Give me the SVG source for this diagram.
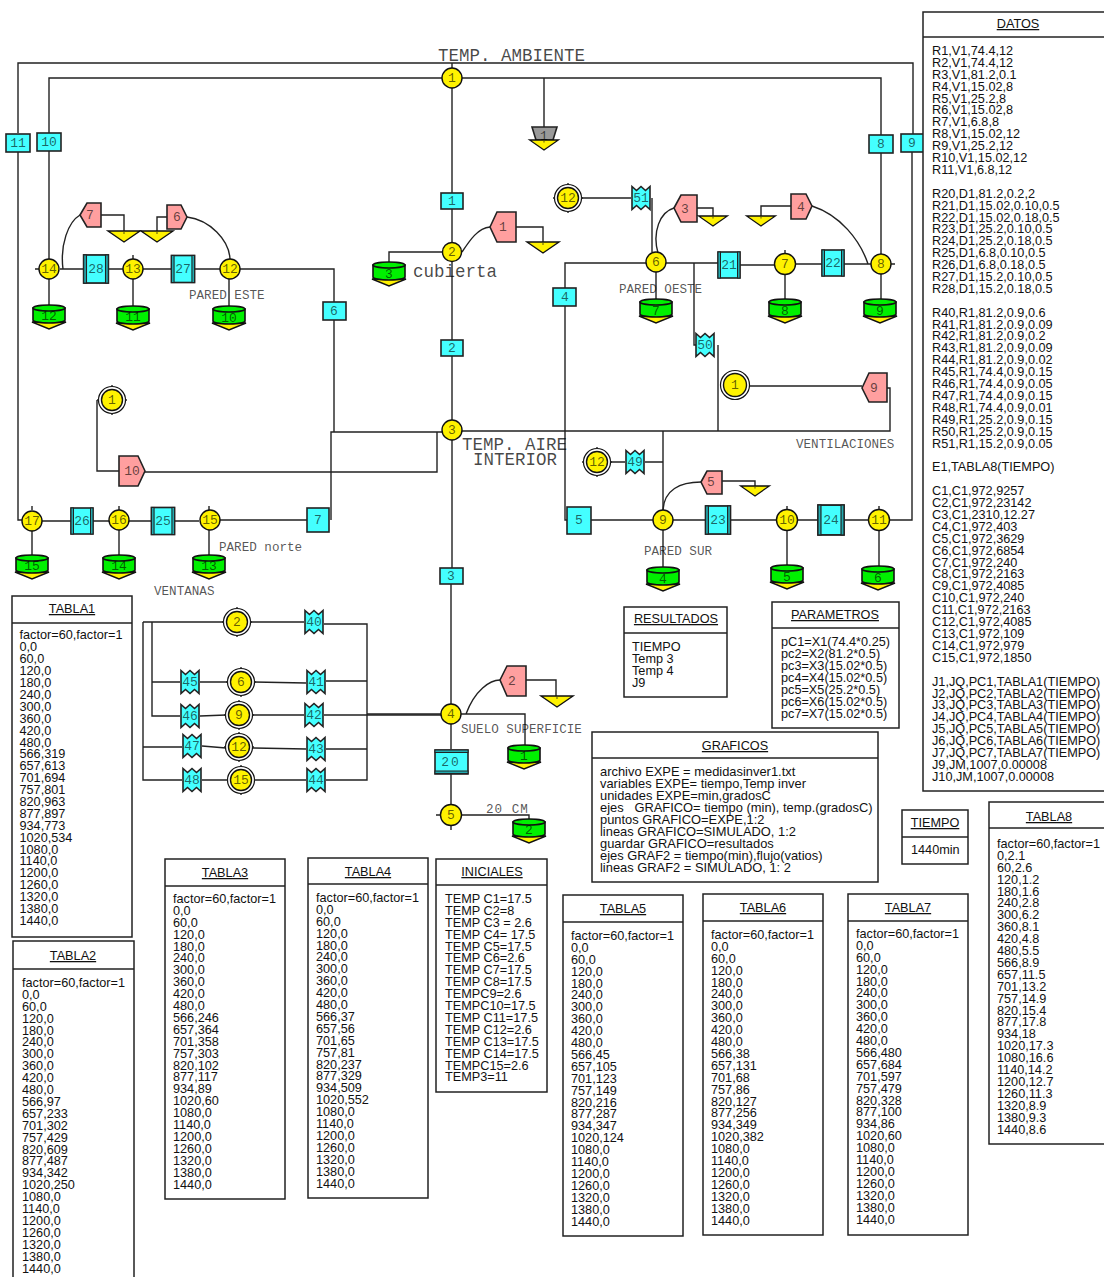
<svg xmlns="http://www.w3.org/2000/svg" width="1104" height="1277" viewBox="0 0 1104 1277">
<style>
.l{fill:none;stroke:#222;stroke-width:1.4}
.y{fill:#fff200;stroke:#111;stroke-width:1.4}
.c{fill:#44ffff;stroke:#222;stroke-width:1.6}
.p{fill:#ff9f9f;stroke:#222;stroke-width:1.6}
.g{fill:#00f000;stroke:#111;stroke-width:1.6}
.gr{fill:#999;stroke:#222;stroke-width:1.6}
.w{fill:#fff;stroke:#111;stroke-width:1.2}
.bar{fill:#22aab0;stroke:#222;stroke-width:1}
.box{fill:#fff;stroke:#222;stroke-width:1.5}
.n{font:13px "Liberation Mono",monospace;fill:#000;fill-opacity:.62;text-anchor:middle}
.m{font:17.5px "Liberation Mono",monospace;fill:#000;fill-opacity:.72}
.s{font:12.6px "Liberation Mono",monospace;fill:#000;fill-opacity:.68}
.h{font:12.7px "Liberation Sans",Arial,sans-serif;fill:#111;text-anchor:middle;text-decoration:underline}
.t{font:12.7px "Liberation Sans",Arial,sans-serif;fill:#111;white-space:pre}
</style>
<defs>
<g id="cyl"><polygon class="y" points="-17,17 17,17 0,24" stroke-width="1"/><path class="g" d="M-16 3V15A16 3 0 0 0 16 15V3Z"/><ellipse class="g" cx="0" cy="3" rx="16" ry="3"/></g>
<g id="gnd"><polygon class="y" points="-16,0 16,0 0,11"/><circle cx="0" cy="2" r=".7" fill="#111"/></g>
<path id="zig" class="c" d="M-9 -11.500L-4.500 -7.500L0 -11.500L4.500 -7.500L9 -11.500V11.500L4.500 7.500L0 11.500L-4.500 7.500L-9 11.500Z"/>
<g id="cir2"><circle class="w" r="13.500"/><circle class="y" r="10.500"/><path class="l" d="M0 -15V-13M0 13V15M-15 0H-13M13 0H15"/></g>
<g id="wallv"><rect class="c" x="-11" y="-13" width="22" height="26"/><rect class="bar" x="-11" y="-13" width="2.500" height="26"/><rect class="bar" x="8.500" y="-13" width="2.500" height="26"/></g>
</defs>
<g id="connectors" class="l">
<path class="l" d="M18 133V63H913V134M912 152V520H889M18 151V520H22M452 63V68"/>
<path class="l" stroke-width="1.6" d="M49 133V78H442M462 78H881V135M881 153V254M49 151V259M544 78V127"/>
<path class="l" d="M452 88V193M452 209V242M452 262V340M452 356V420M452 440V568M451 584V704M451 724V749M451 773V805"/>
<path class="l" d="M442 252H389V262M462 252C470 240 478 228 490 227M516 227H543V242"/>
<path class="l" d="M646 263H565V288M565 306V520H567M462 431H890V388H887M694 263V345H696M718 345V431M663 431V510"/>
<path class="l" d="M666 263H718M740 265H775M795 264H822M844 264H871M652 198V252M581 198H631M658 253C652 232 660 212 674 208M697 208H713V216M791 206H761V216M812 206C840 215 860 240 868 264"/>
<path class="l" d="M656 272V299M785 274V299M881 274V299M750 386H862M610 462H625M645 462H663"/>
<path class="l" d="M663 510C664 490 680 482 701 482M722 481H755V486M591 520H653M673 520H705M731 520H777M797 520H818M844 520H869M663 530V567M787 530V565M879 530V566"/>
<path class="l" d="M60 269H83M109 269H123M143 269H171M195 269H220M240 269H334V302M334 320V432M331 520V432H442M219 520H307M97 400V471H119M145 472H437V432"/>
<path class="l" d="M42 521H71M93 521H109M129 521H152M175 521H199M32 530V555M119 530V555M209 530V555M49 279V305M133 279V306M229 279V306"/>
<path class="l" d="M63 269C60 245 68 222 80 215M101 215H124V231M167 217H157V231M187 217C210 220 229 240 230 259"/>
<path class="l" stroke-width="1.8" d="M143 622H224M143 622V780H182M152 622V716H180M152 682H180M143 747H182M367 714H441"/>
<path class="l" d="M250 622H304M324 624H367V780H326M326 681H367M324 715H441M326 749H367M200 682H228M254 682L306 683M200 716L226 715M252 715H304M202 746L226 748M252 748L306 749M202 780H226M256 780H306"/>
<path class="l" d="M466 714C475 690 490 680 500 680M526 680H556V696M461 714H525V745M461 815H529V819"/>
<path class="l" d="M133 255V259M119 506V510M32 506V510M209 506V510M785 250V254M787 506V510M879 506V510M451 825V830M441 815H436M39 269H35M891 264H895"/>
</g>
<g id="n1"><circle class="y" cx="452" cy="78" r="10"/><text class="n" x="452" y="82">1</text></g>
<g id="n2"><circle class="y" cx="452" cy="252" r="9.500"/><text class="n" x="452" y="256">2</text></g>
<g id="n3"><circle class="y" cx="452" cy="430" r="10"/><text class="n" x="452" y="434">3</text></g>
<g id="n4"><circle class="y" cx="451" cy="714" r="10"/><text class="n" x="451" y="718">4</text></g>
<g id="n5"><circle class="y" cx="451" cy="815" r="10.500"/><text class="n" x="451" y="819">5</text></g>
<g id="n6"><circle class="y" cx="656" cy="262" r="10"/><text class="n" x="656" y="266">6</text></g>
<g id="n7"><circle class="y" cx="785" cy="264" r="10.500"/><text class="n" x="785" y="268">7</text></g>
<g id="n8"><circle class="y" cx="881" cy="264" r="10"/><text class="n" x="881" y="268">8</text></g>
<g id="n9"><circle class="y" cx="663" cy="520" r="10"/><text class="n" x="663" y="524">9</text></g>
<g id="n10"><circle class="y" cx="787" cy="520" r="10.500"/><text class="n" x="787" y="524">10</text></g>
<g id="n11"><circle class="y" cx="879" cy="520" r="10.500"/><text class="n" x="879" y="524">11</text></g>
<g id="n12"><circle class="y" cx="230" cy="269" r="10"/><text class="n" x="230" y="273">12</text></g>
<g id="n13"><circle class="y" cx="133" cy="269" r="10"/><text class="n" x="133" y="273">13</text></g>
<g id="n14"><circle class="y" cx="49" cy="269" r="10"/><text class="n" x="49" y="273">14</text></g>
<g id="n15"><circle class="y" cx="210" cy="520" r="10"/><text class="n" x="210" y="524">15</text></g>
<g id="n16"><circle class="y" cx="119" cy="520" r="10"/><text class="n" x="119" y="524">16</text></g>
<g id="n17"><circle class="y" cx="32" cy="521" r="10"/><text class="n" x="32" y="525">17</text></g>
<g id="e12a"><use href="#cir2" x="568" y="198"/><text class="n" x="568" y="202">12</text></g>
<g id="e12b"><use href="#cir2" x="597" y="462"/><text class="n" x="597" y="466">12</text></g>
<g id="e1a"><circle class="w" cx="735" cy="385" r="14.500"/><circle class="y" cx="735" cy="385" r="11.500"/><text class="n" x="735" y="389">1</text></g>
<g id="e1b"><use href="#cir2" x="112" y="400"/><text class="n" x="112" y="404">1</text></g>
<g id="e2"><use href="#cir2" x="237" y="622"/><text class="n" x="237" y="626">2</text></g>
<g id="e6"><use href="#cir2" x="241" y="682"/><text class="n" x="241" y="686">6</text></g>
<g id="e9"><use href="#cir2" x="239" y="715"/><text class="n" x="239" y="719">9</text></g>
<g id="e12c"><use href="#cir2" x="239" y="747"/><text class="n" x="239" y="751">12</text></g>
<g id="e15"><use href="#cir2" x="241" y="780"/><text class="n" x="241" y="784">15</text></g>
<g id="r11"><rect class="c" x="6" y="134" width="24" height="18"/><text class="n" x="18" y="147">11</text></g>
<g id="r10"><rect class="c" x="37" y="133" width="24" height="18"/><text class="n" x="49" y="146">10</text></g>
<g id="r1"><rect class="c" x="441" y="193" width="22" height="16"/><text class="n" x="452" y="205">1</text></g>
<g id="r2"><rect class="c" x="441" y="340" width="22" height="16"/><text class="n" x="452" y="352">2</text></g>
<g id="r3"><rect class="c" x="440" y="568" width="23" height="16"/><text class="n" x="451" y="580">3</text></g>
<g id="r4"><rect class="c" x="553" y="288" width="23" height="18"/><text class="n" x="565" y="301">4</text></g>
<g id="r5"><rect class="c" x="567" y="507" width="24" height="27"/><text class="n" x="579" y="524">5</text></g>
<g id="r6"><rect class="c" x="323" y="302" width="23" height="18"/><text class="n" x="334" y="315">6</text></g>
<g id="r7"><rect class="c" x="307" y="508" width="22" height="24"/><text class="n" x="318" y="524">7</text></g>
<g id="r8"><rect class="c" x="869" y="135" width="24" height="18"/><text class="n" x="881" y="148">8</text></g>
<g id="r9"><rect class="c" x="901" y="134" width="23" height="18"/><text class="n" x="912" y="147">9</text></g>
<g id="d28"><use href="#wallv" transform="translate(96 269) scale(1.12 1.08)"/><text class="n" x="96" y="273">28</text></g>
<g id="d27"><use href="#wallv" transform="translate(183 269) scale(1.05 1.04)"/><text class="n" x="183" y="273">27</text></g>
<g id="d21"><use href="#wallv" x="729" y="265"/><text class="n" x="729" y="269">21</text></g>
<g id="d22"><use href="#wallv" x="833" y="263"/><text class="n" x="833" y="267">22</text></g>
<g id="d23"><use href="#wallv" transform="translate(718 520) scale(1.13 1.08)"/><text class="n" x="718" y="524">23</text></g>
<g id="d24"><use href="#wallv" transform="translate(831 520) scale(1.18 1.15)"/><text class="n" x="831" y="524">24</text></g>
<g id="d26"><use href="#wallv" x="82" y="521"/><text class="n" x="82" y="525">26</text></g>
<g id="d25"><use href="#wallv" transform="translate(163 521) scale(1.05 1.04)"/><text class="n" x="163" y="525">25</text></g>
<g id="d20"><rect class="c" x="435" y="750" width="33" height="24"/><rect class="bar" x="435" y="750" width="33" height="2.500"/><rect class="bar" x="435" y="771" width="33" height="2.500"/><text class="n" x="451" y="766" letter-spacing="2">20</text></g>
<g id="z51"><use href="#zig" x="641" y="198"/><text class="n" x="641" y="202">51</text></g>
<g id="z50"><use href="#zig" x="705" y="345"/><text class="n" x="705" y="349">50</text></g>
<g id="z49"><use href="#zig" x="635" y="462"/><text class="n" x="635" y="466">49</text></g>
<g id="z40"><use href="#zig" x="314" y="622"/><text class="n" x="314" y="626">40</text></g>
<g id="z41"><use href="#zig" x="316" y="682"/><text class="n" x="316" y="686">41</text></g>
<g id="z42"><use href="#zig" x="314" y="715"/><text class="n" x="314" y="719">42</text></g>
<g id="z43"><use href="#zig" x="316" y="749"/><text class="n" x="316" y="753">43</text></g>
<g id="z44"><use href="#zig" x="316" y="780"/><text class="n" x="316" y="784">44</text></g>
<g id="z45"><use href="#zig" x="190" y="682"/><text class="n" x="190" y="686">45</text></g>
<g id="z46"><use href="#zig" x="190" y="716"/><text class="n" x="190" y="720">46</text></g>
<g id="z47"><use href="#zig" x="192" y="746"/><text class="n" x="192" y="750">47</text></g>
<g id="z48"><use href="#zig" x="192" y="780"/><text class="n" x="192" y="784">48</text></g>
<g id="p1"><path class="p" d="M490 227L497 212H516V242H497Z"/><text class="n" x="503" y="231">1</text></g>
<g id="p2"><path class="p" d="M500 680L507 666H526V696H507Z"/><text class="n" x="512" y="685">2</text></g>
<g id="p3"><path class="p" d="M674 208L681 195H697V222H681Z"/><text class="n" x="685" y="213">3</text></g>
<g id="p4"><path class="p" d="M812 206L806 194H791V219H806Z"/><text class="n" x="801" y="211">4</text></g>
<g id="p5"><path class="p" d="M701 482L707 471H722V494H707Z"/><text class="n" x="711" y="486">5</text></g>
<g id="p6"><path class="p" d="M187 217L181 205H167V229H181Z"/><text class="n" x="177" y="221">6</text></g>
<g id="p7"><path class="p" d="M80 215L87 203H101V227H87Z"/><text class="n" x="90" y="219">7</text></g>
<g id="p9"><path class="p" d="M862 388L869 373H887V402H869Z"/><text class="n" x="874" y="392">9</text></g>
<g id="p10"><path class="p" d="M145 471L138 456H119V486H138Z"/><text class="n" x="132" y="475">10</text></g>
<g id="t1"><polygon class="gr" points="532,127 557,127 553,140 536,140"/><use href="#gnd" transform="translate(544 140) scale(.9)"/><text class="n" x="544" y="140">1</text></g>
<g id="g1"><use href="#gnd" x="543" y="242"/></g>
<g id="g7"><use href="#gnd" x="124" y="231"/></g>
<g id="g6"><use href="#gnd" x="157" y="231"/></g>
<g id="g3"><use href="#gnd" transform="translate(713 216) scale(.9)"/></g>
<g id="g4"><use href="#gnd" transform="translate(761 216) scale(.9)"/></g>
<g id="g5"><use href="#gnd" transform="translate(755 486) scale(.9)"/></g>
<g id="g2"><use href="#gnd" x="557" y="696"/></g>
<g id="c12"><use href="#cyl" x="49" y="305"/><text class="n" x="49" y="320">12</text></g>
<g id="c11"><use href="#cyl" x="133" y="306"/><text class="n" x="133" y="321">11</text></g>
<g id="c10"><use href="#cyl" x="229" y="306"/><text class="n" x="229" y="322">10</text></g>
<g id="c3"><use href="#cyl" x="389" y="262"/><text class="n" x="389" y="278">3</text></g>
<g id="c7"><use href="#cyl" x="656" y="299"/><text class="n" x="656" y="315">7</text></g>
<g id="c8"><use href="#cyl" x="785" y="299"/><text class="n" x="785" y="315">8</text></g>
<g id="c9"><use href="#cyl" x="880" y="299"/><text class="n" x="880" y="315">9</text></g>
<g id="c4"><use href="#cyl" x="663" y="567"/><text class="n" x="663" y="583">4</text></g>
<g id="c5"><use href="#cyl" x="787" y="565"/><text class="n" x="787" y="581">5</text></g>
<g id="c6"><use href="#cyl" x="878" y="566"/><text class="n" x="878" y="582">6</text></g>
<g id="c15"><use href="#cyl" x="32" y="555"/><text class="n" x="32" y="570">15</text></g>
<g id="c14"><use href="#cyl" x="119" y="555"/><text class="n" x="119" y="570">14</text></g>
<g id="c13"><use href="#cyl" x="209" y="555"/><text class="n" x="209" y="570">13</text></g>
<g id="c1"><use href="#cyl" x="524" y="745"/><text class="n" x="524" y="760">1</text></g>
<g id="c2"><use href="#cyl" x="529" y="819"/><text class="n" x="529" y="834">2</text></g>
<g id="labels">
<text class="m" x="438" y="61">TEMP. AMBIENTE</text>
<text class="m" x="413" y="277">cubierta</text>
<text class="m" x="462" y="450">TEMP. AIRE</text>
<text class="m" x="473" y="465">INTERIOR</text>
<text class="s" x="189" y="299">PARED ESTE</text>
<text class="s" x="619" y="293">PARED OESTE</text>
<text class="s" x="796" y="448">VENTILACIONES</text>
<text class="s" x="219" y="551">PARED norte</text>
<text class="s" x="154" y="595">VENTANAS</text>
<text class="s" x="644" y="555">PARED SUR</text>
<text class="s" x="461" y="733">SUELO SUPERFICIE</text>
<text class="s" x="486" y="813" letter-spacing="1">20 CM</text>
</g>
<g id="datos"><rect class="box" x="923" y="12" width="190" height="779"/><path class="l" d="M923 37H1113"/><text class="h" x="1018" y="28">DATOS</text>
<text class="t" y="43"><tspan x="932" dy="11.900">R1,V1,74.4,12</tspan><tspan x="932" dy="11.900">R2,V1,74.4,12</tspan><tspan x="932" dy="11.900">R3,V1,81.2,0.1</tspan><tspan x="932" dy="11.900">R4,V1,15.02,8</tspan><tspan x="932" dy="11.900">R5,V1,25.2,8</tspan><tspan x="932" dy="11.900">R6,V1,15.02,8</tspan><tspan x="932" dy="11.900">R7,V1,6.8,8</tspan><tspan x="932" dy="11.900">R8,V1,15.02,12</tspan><tspan x="932" dy="11.900">R9,V1,25.2,12</tspan><tspan x="932" dy="11.900">R10,V1,15.02,12</tspan><tspan x="932" dy="11.900">R11,V1,6.8,12</tspan><tspan x="932" dy="23.800">R20,D1,81.2,0.2,2</tspan><tspan x="932" dy="11.900">R21,D1,15.02,0.10,0.5</tspan><tspan x="932" dy="11.900">R22,D1,15.02,0.18,0.5</tspan><tspan x="932" dy="11.900">R23,D1,25.2,0.10,0.5</tspan><tspan x="932" dy="11.900">R24,D1,25.2,0.18,0.5</tspan><tspan x="932" dy="11.900">R25,D1,6.8,0.10,0.5</tspan><tspan x="932" dy="11.900">R26,D1,6.8,0.18,0.5</tspan><tspan x="932" dy="11.900">R27,D1,15.2,0.10,0.5</tspan><tspan x="932" dy="11.900">R28,D1,15.2,0.18,0.5</tspan><tspan x="932" dy="23.800">R40,R1,81.2,0.9,0.6</tspan><tspan x="932" dy="11.900">R41,R1,81.2,0.9,0.09</tspan><tspan x="932" dy="11.900">R42,R1,81.2,0.9,0.2</tspan><tspan x="932" dy="11.900">R43,R1,81.2,0.9,0.09</tspan><tspan x="932" dy="11.900">R44,R1,81.2,0.9,0.02</tspan><tspan x="932" dy="11.900">R45,R1,74.4,0.9,0.15</tspan><tspan x="932" dy="11.900">R46,R1,74.4,0.9,0.05</tspan><tspan x="932" dy="11.900">R47,R1,74.4,0.9,0.15</tspan><tspan x="932" dy="11.900">R48,R1,74.4,0.9,0.01</tspan><tspan x="932" dy="11.900">R49,R1,25.2,0.9,0.15</tspan><tspan x="932" dy="11.900">R50,R1,25.2,0.9,0.15</tspan><tspan x="932" dy="11.900">R51,R1,15.2,0.9,0.05</tspan><tspan x="932" dy="23.800">E1,TABLA8(TIEMPO)</tspan><tspan x="932" dy="23.800">C1,C1,972,9257</tspan><tspan x="932" dy="11.900">C2,C1,972,23142</tspan><tspan x="932" dy="11.900">C3,C1,2310,12.27</tspan><tspan x="932" dy="11.900">C4,C1,972,403</tspan><tspan x="932" dy="11.900">C5,C1,972,3629</tspan><tspan x="932" dy="11.900">C6,C1,972,6854</tspan><tspan x="932" dy="11.900">C7,C1,972,240</tspan><tspan x="932" dy="11.900">C8,C1,972,2163</tspan><tspan x="932" dy="11.900">C9,C1,972,4085</tspan><tspan x="932" dy="11.900">C10,C1,972,240</tspan><tspan x="932" dy="11.900">C11,C1,972,2163</tspan><tspan x="932" dy="11.900">C12,C1,972,4085</tspan><tspan x="932" dy="11.900">C13,C1,972,109</tspan><tspan x="932" dy="11.900">C14,C1,972,979</tspan><tspan x="932" dy="11.900">C15,C1,972,1850</tspan><tspan x="932" dy="23.800">J1,JQ,PC1,TABLA1(TIEMPO)</tspan><tspan x="932" dy="11.900">J2,JQ,PC2,TABLA2(TIEMPO)</tspan><tspan x="932" dy="11.900">J3,JQ,PC3,TABLA3(TIEMPO)</tspan><tspan x="932" dy="11.900">J4,JQ,PC4,TABLA4(TIEMPO)</tspan><tspan x="932" dy="11.900">J5,JQ,PC5,TABLA5(TIEMPO)</tspan><tspan x="932" dy="11.900">J6,JQ,PC6,TABLA6(TIEMPO)</tspan><tspan x="932" dy="11.900">J7,JQ,PC7,TABLA7(TIEMPO)</tspan><tspan x="932" dy="11.900">J9,JM,1007,0.00008</tspan><tspan x="932" dy="11.900">J10,JM,1007,0.00008</tspan></text></g>
<g id="tabla1"><rect class="box" x="12" y="596" width="120" height="341"/><path class="l" d="M12 623H132"/><text class="h" x="72" y="613">TABLA1</text>
<text class="t" y="627.500"><tspan x="19.500" dy="11.900">factor=60,factor=1</tspan><tspan x="19.500" dy="11.900">0,0</tspan><tspan x="19.500" dy="11.900">60,0</tspan><tspan x="19.500" dy="11.900">120,0</tspan><tspan x="19.500" dy="11.900">180,0</tspan><tspan x="19.500" dy="11.900">240,0</tspan><tspan x="19.500" dy="11.900">300,0</tspan><tspan x="19.500" dy="11.900">360,0</tspan><tspan x="19.500" dy="11.900">420,0</tspan><tspan x="19.500" dy="11.900">480,0</tspan><tspan x="19.500" dy="11.900">566,319</tspan><tspan x="19.500" dy="11.900">657,613</tspan><tspan x="19.500" dy="11.900">701,694</tspan><tspan x="19.500" dy="11.900">757,801</tspan><tspan x="19.500" dy="11.900">820,963</tspan><tspan x="19.500" dy="11.900">877,897</tspan><tspan x="19.500" dy="11.900">934,773</tspan><tspan x="19.500" dy="11.900">1020,534</tspan><tspan x="19.500" dy="11.900">1080,0</tspan><tspan x="19.500" dy="11.900">1140,0</tspan><tspan x="19.500" dy="11.900">1200,0</tspan><tspan x="19.500" dy="11.900">1260,0</tspan><tspan x="19.500" dy="11.900">1320,0</tspan><tspan x="19.500" dy="11.900">1380,0</tspan><tspan x="19.500" dy="11.900">1440,0</tspan></text></g>
<g id="tabla2"><rect class="box" x="13" y="941" width="121" height="345"/><path class="l" d="M13 969H134"/><text class="h" x="73" y="960">TABLA2</text>
<text class="t" y="975"><tspan x="22" dy="11.900">factor=60,factor=1</tspan><tspan x="22" dy="11.900">0,0</tspan><tspan x="22" dy="11.900">60,0</tspan><tspan x="22" dy="11.900">120,0</tspan><tspan x="22" dy="11.900">180,0</tspan><tspan x="22" dy="11.900">240,0</tspan><tspan x="22" dy="11.900">300,0</tspan><tspan x="22" dy="11.900">360,0</tspan><tspan x="22" dy="11.900">420,0</tspan><tspan x="22" dy="11.900">480,0</tspan><tspan x="22" dy="11.900">566,97</tspan><tspan x="22" dy="11.900">657,233</tspan><tspan x="22" dy="11.900">701,302</tspan><tspan x="22" dy="11.900">757,429</tspan><tspan x="22" dy="11.900">820,609</tspan><tspan x="22" dy="11.900">877,487</tspan><tspan x="22" dy="11.900">934,342</tspan><tspan x="22" dy="11.900">1020,250</tspan><tspan x="22" dy="11.900">1080,0</tspan><tspan x="22" dy="11.900">1140,0</tspan><tspan x="22" dy="11.900">1200,0</tspan><tspan x="22" dy="11.900">1260,0</tspan><tspan x="22" dy="11.900">1320,0</tspan><tspan x="22" dy="11.900">1380,0</tspan><tspan x="22" dy="11.900">1440,0</tspan></text></g>
<g id="tabla3"><rect class="box" x="165" y="859" width="120" height="340"/><path class="l" d="M165 886H285"/><text class="h" x="225" y="877">TABLA3</text>
<text class="t" y="891"><tspan x="173" dy="11.900">factor=60,factor=1</tspan><tspan x="173" dy="11.900">0,0</tspan><tspan x="173" dy="11.900">60,0</tspan><tspan x="173" dy="11.900">120,0</tspan><tspan x="173" dy="11.900">180,0</tspan><tspan x="173" dy="11.900">240,0</tspan><tspan x="173" dy="11.900">300,0</tspan><tspan x="173" dy="11.900">360,0</tspan><tspan x="173" dy="11.900">420,0</tspan><tspan x="173" dy="11.900">480,0</tspan><tspan x="173" dy="11.900">566,246</tspan><tspan x="173" dy="11.900">657,364</tspan><tspan x="173" dy="11.900">701,358</tspan><tspan x="173" dy="11.900">757,303</tspan><tspan x="173" dy="11.900">820,102</tspan><tspan x="173" dy="11.900">877,117</tspan><tspan x="173" dy="11.900">934,89</tspan><tspan x="173" dy="11.900">1020,60</tspan><tspan x="173" dy="11.900">1080,0</tspan><tspan x="173" dy="11.900">1140,0</tspan><tspan x="173" dy="11.900">1200,0</tspan><tspan x="173" dy="11.900">1260,0</tspan><tspan x="173" dy="11.900">1320,0</tspan><tspan x="173" dy="11.900">1380,0</tspan><tspan x="173" dy="11.900">1440,0</tspan></text></g>
<g id="tabla4"><rect class="box" x="308" y="858" width="120" height="340"/><path class="l" d="M308 884H428"/><text class="h" x="368" y="876">TABLA4</text>
<text class="t" y="890"><tspan x="316" dy="11.900">factor=60,factor=1</tspan><tspan x="316" dy="11.900">0,0</tspan><tspan x="316" dy="11.900">60,0</tspan><tspan x="316" dy="11.900">120,0</tspan><tspan x="316" dy="11.900">180,0</tspan><tspan x="316" dy="11.900">240,0</tspan><tspan x="316" dy="11.900">300,0</tspan><tspan x="316" dy="11.900">360,0</tspan><tspan x="316" dy="11.900">420,0</tspan><tspan x="316" dy="11.900">480,0</tspan><tspan x="316" dy="11.900">566,37</tspan><tspan x="316" dy="11.900">657,56</tspan><tspan x="316" dy="11.900">701,65</tspan><tspan x="316" dy="11.900">757,81</tspan><tspan x="316" dy="11.900">820,237</tspan><tspan x="316" dy="11.900">877,329</tspan><tspan x="316" dy="11.900">934,509</tspan><tspan x="316" dy="11.900">1020,552</tspan><tspan x="316" dy="11.900">1080,0</tspan><tspan x="316" dy="11.900">1140,0</tspan><tspan x="316" dy="11.900">1200,0</tspan><tspan x="316" dy="11.900">1260,0</tspan><tspan x="316" dy="11.900">1320,0</tspan><tspan x="316" dy="11.900">1380,0</tspan><tspan x="316" dy="11.900">1440,0</tspan></text></g>
<g id="iniciales"><rect class="box" x="436" y="859" width="111" height="233"/><path class="l" d="M436 885H547"/><text class="h" x="492" y="876">INICIALES</text>
<text class="t" y="891"><tspan x="445" dy="11.900">TEMP C1=17.5</tspan><tspan x="445" dy="11.900">TEMP C2=8</tspan><tspan x="445" dy="11.900">TEMP C3 = 2.6</tspan><tspan x="445" dy="11.900">TEMP C4= 17.5</tspan><tspan x="445" dy="11.900">TEMP C5=17.5</tspan><tspan x="445" dy="11.900">TEMP C6=2.6</tspan><tspan x="445" dy="11.900">TEMP C7=17.5</tspan><tspan x="445" dy="11.900">TEMP C8=17.5</tspan><tspan x="445" dy="11.900">TEMPC9=2.6</tspan><tspan x="445" dy="11.900">TEMPC10=17.5</tspan><tspan x="445" dy="11.900">TEMP C11=17.5</tspan><tspan x="445" dy="11.900">TEMP C12=2.6</tspan><tspan x="445" dy="11.900">TEMP C13=17.5</tspan><tspan x="445" dy="11.900">TEMP C14=17.5</tspan><tspan x="445" dy="11.900">TEMPC15=2.6</tspan><tspan x="445" dy="11.900">TEMP3=11</tspan></text></g>
<g id="tabla5"><rect class="box" x="563" y="895" width="120" height="341"/><path class="l" d="M563 922H683"/><text class="h" x="623" y="913">TABLA5</text>
<text class="t" y="928"><tspan x="571" dy="11.900">factor=60,factor=1</tspan><tspan x="571" dy="11.900">0,0</tspan><tspan x="571" dy="11.900">60,0</tspan><tspan x="571" dy="11.900">120,0</tspan><tspan x="571" dy="11.900">180,0</tspan><tspan x="571" dy="11.900">240,0</tspan><tspan x="571" dy="11.900">300,0</tspan><tspan x="571" dy="11.900">360,0</tspan><tspan x="571" dy="11.900">420,0</tspan><tspan x="571" dy="11.900">480,0</tspan><tspan x="571" dy="11.900">566,45</tspan><tspan x="571" dy="11.900">657,105</tspan><tspan x="571" dy="11.900">701,123</tspan><tspan x="571" dy="11.900">757,149</tspan><tspan x="571" dy="11.900">820,216</tspan><tspan x="571" dy="11.900">877,287</tspan><tspan x="571" dy="11.900">934,347</tspan><tspan x="571" dy="11.900">1020,124</tspan><tspan x="571" dy="11.900">1080,0</tspan><tspan x="571" dy="11.900">1140,0</tspan><tspan x="571" dy="11.900">1200,0</tspan><tspan x="571" dy="11.900">1260,0</tspan><tspan x="571" dy="11.900">1320,0</tspan><tspan x="571" dy="11.900">1380,0</tspan><tspan x="571" dy="11.900">1440,0</tspan></text></g>
<g id="tabla6"><rect class="box" x="703" y="894" width="120" height="341"/><path class="l" d="M703 921H823"/><text class="h" x="763" y="912">TABLA6</text>
<text class="t" y="927"><tspan x="711" dy="11.900">factor=60,factor=1</tspan><tspan x="711" dy="11.900">0,0</tspan><tspan x="711" dy="11.900">60,0</tspan><tspan x="711" dy="11.900">120,0</tspan><tspan x="711" dy="11.900">180,0</tspan><tspan x="711" dy="11.900">240,0</tspan><tspan x="711" dy="11.900">300,0</tspan><tspan x="711" dy="11.900">360,0</tspan><tspan x="711" dy="11.900">420,0</tspan><tspan x="711" dy="11.900">480,0</tspan><tspan x="711" dy="11.900">566,38</tspan><tspan x="711" dy="11.900">657,131</tspan><tspan x="711" dy="11.900">701,68</tspan><tspan x="711" dy="11.900">757,86</tspan><tspan x="711" dy="11.900">820,127</tspan><tspan x="711" dy="11.900">877,256</tspan><tspan x="711" dy="11.900">934,349</tspan><tspan x="711" dy="11.900">1020,382</tspan><tspan x="711" dy="11.900">1080,0</tspan><tspan x="711" dy="11.900">1140,0</tspan><tspan x="711" dy="11.900">1200,0</tspan><tspan x="711" dy="11.900">1260,0</tspan><tspan x="711" dy="11.900">1320,0</tspan><tspan x="711" dy="11.900">1380,0</tspan><tspan x="711" dy="11.900">1440,0</tspan></text></g>
<g id="tabla7"><rect class="box" x="848" y="894" width="120" height="341"/><path class="l" d="M848 921H968"/><text class="h" x="908" y="912">TABLA7</text>
<text class="t" y="926"><tspan x="856" dy="11.900">factor=60,factor=1</tspan><tspan x="856" dy="11.900">0,0</tspan><tspan x="856" dy="11.900">60,0</tspan><tspan x="856" dy="11.900">120,0</tspan><tspan x="856" dy="11.900">180,0</tspan><tspan x="856" dy="11.900">240,0</tspan><tspan x="856" dy="11.900">300,0</tspan><tspan x="856" dy="11.900">360,0</tspan><tspan x="856" dy="11.900">420,0</tspan><tspan x="856" dy="11.900">480,0</tspan><tspan x="856" dy="11.900">566,480</tspan><tspan x="856" dy="11.900">657,684</tspan><tspan x="856" dy="11.900">701,597</tspan><tspan x="856" dy="11.900">757,479</tspan><tspan x="856" dy="11.900">820,328</tspan><tspan x="856" dy="11.900">877,100</tspan><tspan x="856" dy="11.900">934,86</tspan><tspan x="856" dy="11.900">1020,60</tspan><tspan x="856" dy="11.900">1080,0</tspan><tspan x="856" dy="11.900">1140,0</tspan><tspan x="856" dy="11.900">1200,0</tspan><tspan x="856" dy="11.900">1260,0</tspan><tspan x="856" dy="11.900">1320,0</tspan><tspan x="856" dy="11.900">1380,0</tspan><tspan x="856" dy="11.900">1440,0</tspan></text></g>
<g id="tabla8"><rect class="box" x="989" y="802" width="125" height="342"/><path class="l" d="M989 828H1114"/><text class="h" x="1049" y="821">TABLA8</text>
<text class="t" y="836"><tspan x="997" dy="11.900">factor=60,factor=1</tspan><tspan x="997" dy="11.900">0,2.1</tspan><tspan x="997" dy="11.900">60,2.6</tspan><tspan x="997" dy="11.900">120,1.2</tspan><tspan x="997" dy="11.900">180,1.6</tspan><tspan x="997" dy="11.900">240,2.8</tspan><tspan x="997" dy="11.900">300,6.2</tspan><tspan x="997" dy="11.900">360,8.1</tspan><tspan x="997" dy="11.900">420,4.8</tspan><tspan x="997" dy="11.900">480,5.5</tspan><tspan x="997" dy="11.900">566,8.9</tspan><tspan x="997" dy="11.900">657,11.5</tspan><tspan x="997" dy="11.900">701,13.2</tspan><tspan x="997" dy="11.900">757,14.9</tspan><tspan x="997" dy="11.900">820,15.4</tspan><tspan x="997" dy="11.900">877,17.8</tspan><tspan x="997" dy="11.900">934,18</tspan><tspan x="997" dy="11.900">1020,17.3</tspan><tspan x="997" dy="11.900">1080,16.6</tspan><tspan x="997" dy="11.900">1140,14.2</tspan><tspan x="997" dy="11.900">1200,12.7</tspan><tspan x="997" dy="11.900">1260,11.3</tspan><tspan x="997" dy="11.900">1320,8.9</tspan><tspan x="997" dy="11.900">1380,9.3</tspan><tspan x="997" dy="11.900">1440,8.6</tspan></text></g>
<g id="resultados"><rect class="box" x="624" y="607" width="103" height="90"/><path class="l" d="M624 633H727"/><text class="h" x="676" y="623" font-size="13">RESULTADOS</text>
<text class="t" y="639"><tspan x="632" dy="11.900">TIEMPO</tspan><tspan x="632" dy="12">Temp 3</tspan><tspan x="632" dy="12">Temp 4</tspan><tspan x="632" dy="12">J9</tspan></text></g>
<g id="parametros"><rect class="box" x="772" y="602" width="127" height="126"/><path class="l" d="M772 628H899"/><text class="h" x="835" y="619">PARAMETROS</text>
<text class="t" y="634.500"><tspan x="781" dy="11.900">pC1=X1(74.4*0.25)</tspan><tspan x="781" dy="11.900">pc2=X2(81.2*0.5)</tspan><tspan x="781" dy="11.900">pc3=X3(15.02*0.5)</tspan><tspan x="781" dy="11.900">pc4=X4(15.02*0.5)</tspan><tspan x="781" dy="11.900">pc5=X5(25.2*0.5)</tspan><tspan x="781" dy="11.900">pc6=X6(15.02*0.5)</tspan><tspan x="781" dy="11.900">pc7=X7(15.02*0.5)</tspan></text></g>
<g id="graficos"><rect class="box" x="592" y="732" width="286" height="150"/><path class="l" d="M592 758H878"/><text class="h" x="735" y="750">GRAFICOS</text>
<text class="t" y="763.500" style="font-size:12.9px"><tspan x="600" dy="12">archivo EXPE = medidasinver1.txt</tspan><tspan x="600" dy="12">variables EXPE= tiempo,Temp inver</tspan><tspan x="600" dy="12">unidades EXPE=min,gradosC</tspan><tspan x="600" dy="12">ejes   GRAFICO= tiempo (min), temp.(gradosC)</tspan><tspan x="600" dy="12">puntos GRAFICO=EXPE,1:2</tspan><tspan x="600" dy="12">lineas GRAFICO=SIMULADO, 1:2</tspan><tspan x="600" dy="12">guardar GRAFICO=resultados</tspan><tspan x="600" dy="12">ejes GRAF2 = tiempo(min),flujo(vatios)</tspan><tspan x="600" dy="12">lineas GRAF2 = SIMULADO, 1: 2</tspan></text></g>
<g id="tiempo"><rect class="box" x="902" y="810" width="66" height="54"/><path class="l" d="M902 837H968"/><text class="h" x="935" y="827">TIEMPO</text>
<text class="t" x="911" y="854">1440min</text></g>
</svg>
